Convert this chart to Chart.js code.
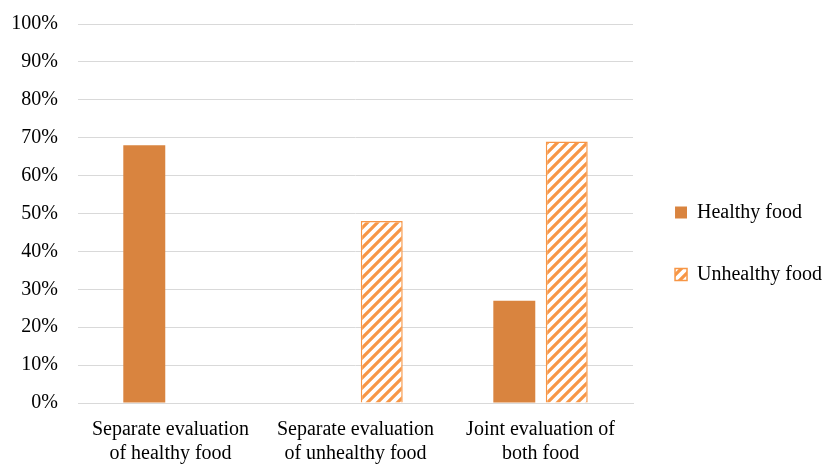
<!DOCTYPE html>
<html>
<head>
  <meta charset="UTF-8">
  <script src="https://cdn.jsdelivr.net/npm/chart.js@4.4.0/dist/chart.umd.min.js"></script>
  <style>
    html, body { margin: 0; padding: 0; background: #fff; }
    #wrap { width: 835px; height: 465px; }
  </style>
</head>
<body>
  <div id="wrap"><canvas id="myChart"></canvas></div>
  <script>
    // data
    const categories = [
      ['Separate evaluation', 'of healthy food'],
      ['Separate evaluation', 'of unhealthy food'],
      ['Joint evaluation of', 'both food']
    ];
    const healthy = [68, null, 27];
    const unhealthy = [null, 48, 69];

    const solidOrange = '#D9843F';
    const lightOrange = '#F79646';

    // diagonal hatch for the unhealthy bars
    function makeHatch() {
      let c = document.createElement('canvas');
      c.width = 10; c.height = 10;
      let g = c.getContext('2d');
      g.fillStyle = '#fff';
      g.fillRect(0, 0, 10, 10);
      g.strokeStyle = lightOrange;
      g.lineWidth = 3.2;
      g.beginPath();
      g.moveTo(-5, 5); g.lineTo(5, -5);
      g.moveTo(0, 10); g.lineTo(10, 0);
      g.moveTo(5, 15); g.lineTo(15, 5);
      g.stroke();
      return g.createPattern(c, 'repeat');
    }

    // nudge the legend a little lower, like the original
    const legendShift = {
      id: 'legendShift',
      afterLayout(chart) {
        chart.legend.top += 11;
        chart.legend.bottom += 11;
      }
    };

    Chart.defaults.font.family = '"Liberation Serif", "Times New Roman", serif';
    Chart.defaults.font.size = 20;
    Chart.defaults.color = '#000';

    let ctx = document.getElementById('myChart').getContext('2d');
    let chart = new Chart(ctx, {
      type: 'bar',
      data: {
        labels: categories,
        datasets: [{
          label: 'Healthy food',
          backgroundColor: solidOrange,
          borderWidth: 0,
          data: healthy
        },
        {
          label: 'Unhealthy food',
          backgroundColor: makeHatch(),
          borderColor: lightOrange,
          borderWidth: 1.5,
          data: unhealthy
        }]
      },
      plugins: [legendShift],
      options: {
        responsive: true,
        maintainAspectRatio: false,
        animation: false,
        layout: { padding: { top: 0, left: 0, right: 3, bottom: 0 } },
        categoryPercentage: 0.567,
        barPercentage: 0.8,
        plugins: {
          legend: {
            position: 'right',
            labels: {
              boxWidth: 12,
              boxHeight: 12,
              padding: 42,
              font: { size: 20 }
            }
          },
          tooltip: { enabled: false }
        },
        scales: {
          x: {
            grid: { display: false },
            border: { color: '#d9d9d9' },
            afterFit: s => { s.height = 62; },
            ticks: { padding: 7, maxRotation: 0, font: { size: 20, lineHeight: 1.2 } }
          },
          y: {
            min: 0,
            max: 100,
            grid: { color: '#d9d9d9', drawTicks: false },
            border: { display: false },
            afterFit: s => { s.width = 78; s.paddingTop = 24; s.paddingBottom = 0; },
            ticks: {
              stepSize: 10,
              padding: 20,
              callback: v => v + '%'
            }
          }
        }
      }
    });
  </script>
</body>
</html>
